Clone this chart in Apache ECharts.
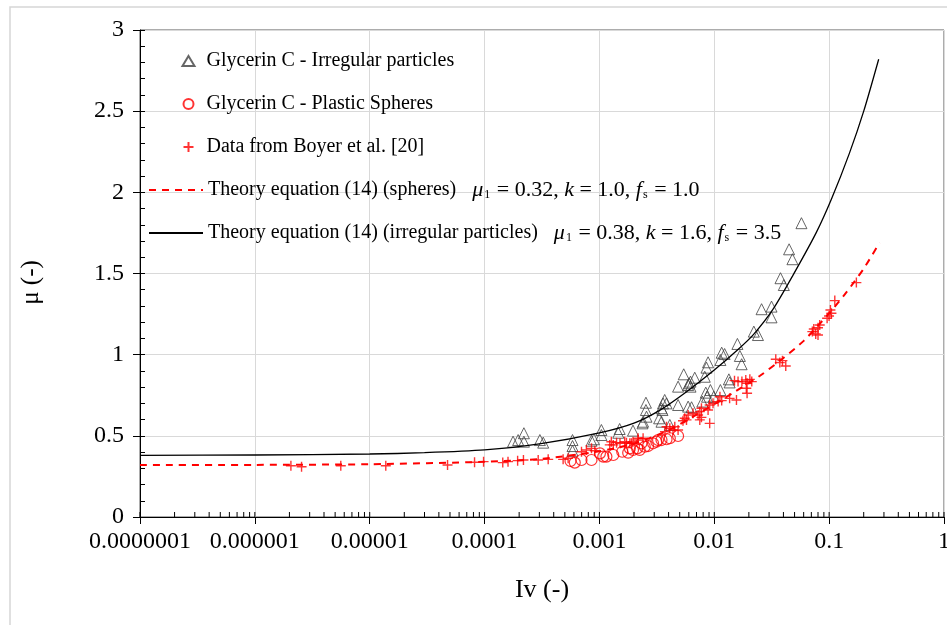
<!DOCTYPE html>
<html>
<head>
<meta charset="utf-8">
<script src="https://cdn.jsdelivr.net/npm/echarts@6/dist/echarts.min.js"></script>
<style>
  html, body { margin: 0; padding: 0; background: #fff; }
  #chart { width: 947px; height: 625px; }
</style>
</head>
<body>
<div id="chart"></div>
<script>
// Measured points: [Iv, mu]
const irregularParticles = [
  [1.77e-4,0.464],[1.96e-4,0.474],[2.2e-4,0.516],[2.2e-4,0.464],[3.03e-4,0.474],[3.24e-4,0.458],
  [5.83e-4,0.474],[5.83e-4,0.437],[5.83e-4,0.408],[8.53e-4,0.470],[8.95e-4,0.479],[1.04e-3,0.536],[1.04e-3,0.505],
  [1.46e-3,0.519],[1.5e-3,0.542],[1.96e-3,0.532],[2.37e-3,0.577],[2.4e-3,0.587],[2.57e-3,0.618],[2.54e-3,0.659],[2.54e-3,0.704],
  [3.31e-3,0.608],[3.47e-3,0.587],[3.47e-3,0.670],[4.1e-3,0.567],[3.58e-3,0.700],[3.54e-3,0.659],[3.7e-3,0.721],[3.84e-3,0.700],
  [4.84e-3,0.690],[5.92e-3,0.680],[6.34e-3,0.676],[4.84e-3,0.803],[5.92e-3,0.813],[6.21e-3,0.834],[6.04e-3,0.824],[6.21e-3,0.803],
  [5.42e-3,0.879],[6.76e-3,0.858],[8.26e-3,0.864],[8.43e-3,0.766],[8.65e-3,0.741],[7.87e-3,0.711],[9.25e-3,0.782],[9.89e-3,0.741],
  [1.13e-2,0.782],[1.13e-2,0.967],[8.83e-3,0.953],[8.55e-3,0.920],[1.34e-2,0.848],[1.36e-2,0.829],[1.16e-2,1.012],[1.23e-2,1.004],
  [1.59e-2,1.066],[1.67e-2,0.992],[1.73e-2,0.941],[2.21e-2,1.142],[2.4e-2,1.121],[2.58e-2,1.280],[3.15e-2,1.296],[3.15e-2,1.230],
  [3.77e-2,1.471],[4.03e-2,1.429],[4.48e-2,1.649],[4.79e-2,1.588],[5.74e-2,1.810]
];

const plasticSpheres = [
  [5.6e-4,0.345],[6.1e-4,0.335],[6.98e-4,0.351],[8.53e-4,0.351],[1.01e-3,0.392],[1.08e-3,0.372],[1.15e-3,0.372],
  [1.32e-3,0.382],[1.58e-3,0.402],[1.78e-3,0.396],[1.84e-3,0.423],[1.96e-3,0.413],[2.13e-3,0.423],[2.24e-3,0.413],
  [2.32e-3,0.454],[2.48e-3,0.433],[2.65e-3,0.437],[2.93e-3,0.454],[3.13e-3,0.464],[3.24e-3,0.474],[3.47e-3,0.474],
  [3.84e-3,0.479],[4.1e-3,0.485],[4.84e-3,0.499]
];

const boyerData = [
  [2.06e-6,0.316],[2.55e-6,0.310],[5.6e-6,0.316],[1.38e-5,0.316],[4.76e-5,0.320],[8.18e-5,0.337],[9.8e-5,0.341],
  [1.44e-4,0.335],[1.6e-4,0.341],[1.94e-4,0.347],[2.18e-4,0.351],[2.93e-4,0.351],[3.58e-4,0.355],[4.83e-4,0.355],[5.34e-4,0.362],
  [6.98e-4,0.402],[7.7e-4,0.413],[8.53e-4,0.423],[9.12e-4,0.408],[1.23e-3,0.444],[1.27e-3,0.464],[1.32e-3,0.444],[1.41e-3,0.458],
  [1.51e-3,0.454],[1.66e-3,0.464],[1.72e-3,0.458],[1.84e-3,0.454],[1.9e-3,0.454],[1.96e-3,0.464],[2.17e-3,0.474],[2.17e-3,0.485],[2.4e-3,0.485],
  [3.72e-3,0.526],[3.84e-3,0.556],[4.1e-3,0.546],[4.37e-3,0.536],[4.53e-3,0.556],[4.84e-3,0.536],
  [5.34e-3,0.593],[5.53e-3,0.608],[5.73e-3,0.598],[5.92e-3,0.628],[6.53e-3,0.639],[7.23e-3,0.628],[7.48e-3,0.649],[7.48e-3,0.598],
  [7.73e-3,0.670],[7.73e-3,0.614],[8.83e-3,0.659],[9.12e-3,0.690],[9.12e-3,0.577],[9.75e-3,0.700],[1.08e-2,0.711],[1.12e-2,0.741],
  [1.16e-2,0.717],[1.36e-2,0.731],[1.56e-2,0.721],
  [1.5e-2,0.840],[1.61e-2,0.834],[1.74e-2,0.834],[1.88e-2,0.844],[1.93e-2,0.824],[2.04e-2,0.848],[2.12e-2,0.834],[1.9e-2,0.793],[1.93e-2,0.762],
  [3.43e-2,0.972],[3.92e-2,0.963],[4.19e-2,0.930],[3.72e-2,0.951],
  [7.14e-2,1.142],[7.35e-2,1.158],[7.64e-2,1.128],[8.0e-2,1.166],[8.0e-2,1.121],[8.28e-2,1.183],[9.6e-2,1.224],[9.98e-2,1.238],
  [0.1047,1.255],[0.1026,1.275],[0.112,1.333],[0.1726,1.444]
];

// Theory curves, equation (14)
const theorySpheres = [
  [1e-7,0.320],[1e-6,0.321],[1e-5,0.325],[1e-4,0.340],[3e-4,0.357],[1e-3,0.405],[2e-3,0.452],[4e-3,0.535],
  [7e-3,0.630],[1e-2,0.695],[1.5e-2,0.770],[2.5e-2,0.870],[4e-2,0.980],[6e-2,1.085],[0.1,1.255],[0.14,1.380],
  [0.2,1.530],[0.275,1.690]
];
const theoryIrregular = [
  [1e-7,0.380],[1e-6,0.382],[1e-5,0.388],[3e-5,0.396],[1e-4,0.413],[3e-4,0.450],[1e-3,0.518],[2e-3,0.578],
  [3.4e-3,0.660],[5.7e-3,0.770],[1e-2,0.905],[1.6e-2,1.030],[2.2e-2,1.125],[3.25e-2,1.280],[4.85e-2,1.490],
  [7.7e-2,1.750],[0.105,1.960],[0.15,2.240],[0.2,2.500],[0.27,2.820]
];

// Axis tick labels, by decade exponent
const xTickLabels = {
  '-7': '0.0000001', '-6': '0.000001', '-5': '0.00001', '-4': '0.0001',
  '-3': '0.001', '-2': '0.01', '-1': '0.1', '0': '1'
};
const yTickLabels = ['0', '0.5', '1', '1.5', '2', '2.5', '3'];

const seriesNames = [
  'Glycerin C - Irregular particles',
  'Glycerin C - Plastic Spheres',
  'Data from Boyer et al. [20]',
  'Theory equation (14) (spheres)',
  'Theory equation (14) (irregular particles)'
];

// Inner tick marks along the log axis (1..9 within every decade)
const xMinorTicks = [];
for (let e = -7; e < 0; e++) {
  for (let m = 1; m <= 9; m++) xMinorTicks.push([m * Math.pow(10, e), 0]);
}
xMinorTicks.push([1, 0]);

const SERIF = '"Liberation Serif", "Times New Roman", serif';
const RED = '#ff0000';
const PLUS = 'path://M0,5L10,5M5,0L5,10';

const paramRich = {
  n: { fontFamily: SERIF, fontSize: 20, color: '#000', lineHeight: 22 },
  gap: { width: 16 },
  i: { fontFamily: SERIF, fontSize: 22, fontStyle: 'italic', color: '#000', lineHeight: 22 },
  p: { fontFamily: SERIF, fontSize: 22, color: '#000', lineHeight: 22 },
  s: { fontFamily: SERIF, fontSize: 12, color: '#000', lineHeight: 22, verticalAlign: 'bottom', padding: [0, 1, 0, 1] }
};
const params = {
  'Theory equation (14) (spheres)': '{i|μ}{s|1}{p| = 0.32, }{i|k}{p| = 1.0, }{i|f}{s|s}{p| = 1.0}',
  'Theory equation (14) (irregular particles)': '{i|μ}{s|1}{p| = 0.38, }{i|k}{p| = 1.6, }{i|f}{s|s}{p| = 3.5}'
};

const chart = echarts.init(document.getElementById('chart'), null, { renderer: 'canvas' });

chart.setOption({
  backgroundColor: '#fff',
  animation: false,
  textStyle: { fontFamily: SERIF },
  graphic: [{
    type: 'rect', silent: true, z: -10,
    shape: { x: 10, y: 7, width: 1000, height: 700 },
    style: { fill: 'none', stroke: '#d6d6d6', lineWidth: 1.5 }
  }],
  grid: {
    left: 140, right: 3, top: 30, bottom: 108,
    outerBoundsMode: 'none', containLabel: false,
    show: true, borderColor: '#595959', borderWidth: 1, backgroundColor: 'transparent'
  },
  legend: [{
    orient: 'vertical', left: 181, top: 50, padding: 0,
    itemWidth: 12, itemHeight: 10, itemGap: 21,
    data: seriesNames.slice(0, 3),
    textStyle: { fontFamily: SERIF, fontSize: 20, color: '#000', lineHeight: 22, padding: [0, 0, 0, 7] }
  }, {
    orient: 'vertical', left: 148, top: 179, padding: 0,
    itemWidth: 54, itemHeight: 11, itemGap: 21,
    itemStyle: { opacity: 0 },
    data: seriesNames.slice(3),
    formatter: name => '{n|' + name + '}{gap|}' + params[name],
    textStyle: { fontFamily: SERIF, fontSize: 20, color: '#000', lineHeight: 22, rich: paramRich }
  }],
  xAxis: {
    type: 'log', logBase: 10, min: 1e-7, max: 1,
    name: 'Iv (-)', nameLocation: 'middle', nameGap: 60,
    nameTextStyle: { fontFamily: SERIF, fontSize: 26, color: '#000' },
    axisLine: { show: true, onZero: false, lineStyle: { color: '#000', width: 1 } },
    axisTick: { show: true, inside: false, length: 7, lineStyle: { color: '#000' } },
    axisLabel: {
      margin: 13, fontFamily: SERIF, fontSize: 24, color: '#000',
      formatter: v => xTickLabels[String(Math.round(Math.log10(v)))] || ''
    },
    splitLine: { show: true, lineStyle: { color: '#d9d9d9', width: 1 } }
  },
  yAxis: [{
    type: 'value', min: 0, max: 3, interval: 0.5,
    name: 'μ (-)', nameLocation: 'middle', nameGap: 96, nameRotate: 90,
    nameTextStyle: { fontFamily: SERIF, fontSize: 25, color: '#000', padding: [0, 18, 0, 0] },
    axisLine: { show: true, lineStyle: { color: '#000', width: 1 } },
    axisTick: { show: true, inside: false, length: 7, lineStyle: { color: '#000' } },
    axisLabel: {
      margin: 16, fontFamily: SERIF, fontSize: 24, color: '#000',
      formatter: (v, i) => yTickLabels[i]
    },
    splitLine: { show: true, lineStyle: { color: '#d9d9d9', width: 1 } }
  }, {
    type: 'value', min: 0, max: 3, interval: 0.1, position: 'left',
    axisLine: { show: false },
    axisTick: { show: true, inside: true, length: 5, lineStyle: { color: '#000' } },
    axisLabel: { show: false },
    splitLine: { show: false }
  }],
  series: [{
    name: seriesNames[0], type: 'scatter', data: irregularParticles,
    symbol: 'triangle', symbolSize: 11, z: 3,
    itemStyle: { color: 'rgba(255,255,255,0)', borderColor: '#404040', borderWidth: 1 }
  }, {
    name: seriesNames[1], type: 'scatter', data: plasticSpheres,
    symbol: 'circle', symbolSize: 11, z: 3,
    itemStyle: { color: 'rgba(255,255,255,0)', borderColor: RED, borderWidth: 1.2 }
  }, {
    name: seriesNames[2], type: 'scatter', data: boyerData,
    symbol: PLUS, symbolSize: 10, z: 3,
    itemStyle: { color: 'none', borderColor: RED, borderWidth: 1.4 }
  }, {
    name: seriesNames[3], type: 'line', data: theorySpheres,
    smooth: 0.25, symbol: 'none', z: 4,
    lineStyle: { color: RED, width: 2, type: [7, 6] }
  }, {
    name: seriesNames[4], type: 'line', data: theoryIrregular,
    smooth: 0.25, symbol: 'none', z: 4,
    lineStyle: { color: '#000', width: 1.3, type: 'solid' }
  }, {
    type: 'custom', silent: true, z: 5, clip: false,
    data: xMinorTicks,
    renderItem: (params, api) => {
      const p = api.coord([api.value(0), 0]);
      return {
        type: 'line',
        shape: { x1: p[0], y1: p[1], x2: p[0], y2: p[1] - 5 },
        style: { stroke: '#000', lineWidth: 1 }
      };
    }
  }]
});
</script>
</body>
</html>
